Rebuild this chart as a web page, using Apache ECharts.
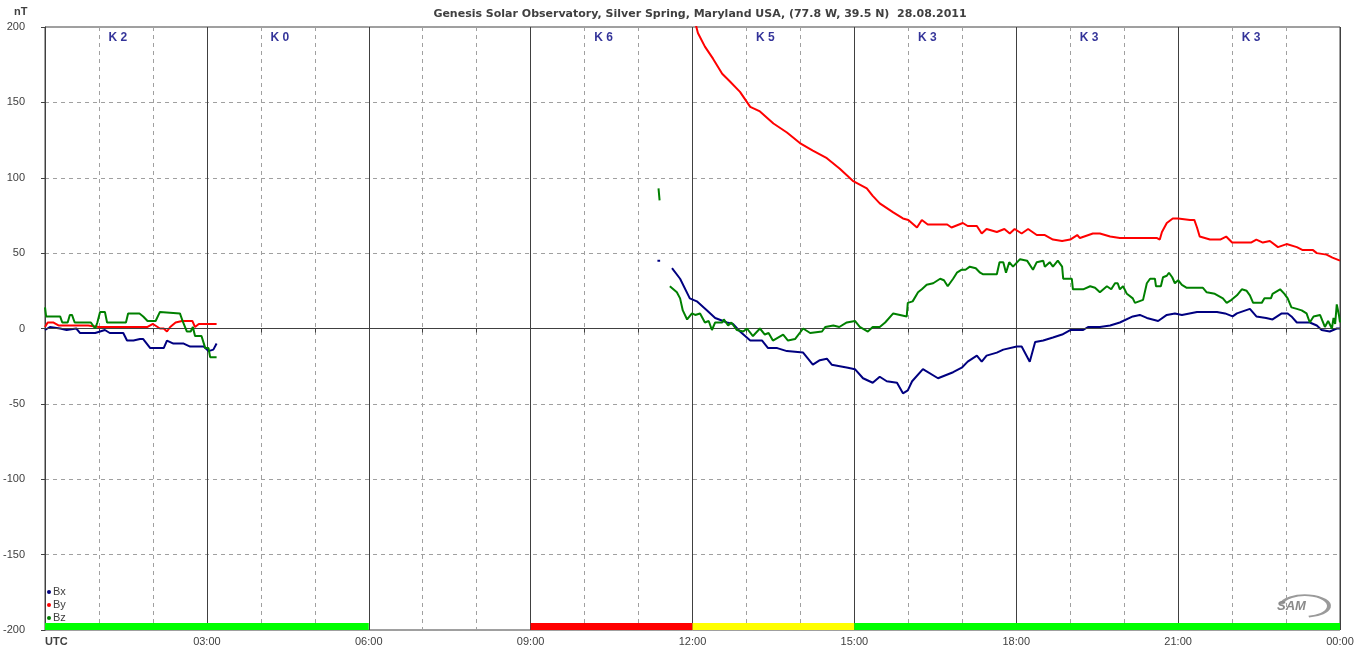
<!DOCTYPE html>
<html>
<head>
<meta charset="utf-8">
<script src="https://cdn.jsdelivr.net/npm/echarts@6/dist/echarts.min.js"></script>
<style>
  html, body { margin: 0; padding: 0; background: #fff; }
  #main { width: 1360px; height: 657px; }
</style>
</head>
<body>
<div id="main"></div>
<script>
// [hour UTC, nT] ; null = no data
var bx = [
  [0, -1], [0.09, 1], [0.28, 0], [0.4, -1], [0.58, 0], [0.65, -3], [0.93, -3], [1.02, -2], [1.11, -1],
  [1.2, -3], [1.45, -3], [1.52, -8], [1.64, -8], [1.76, -7], [1.82, -7], [1.95, -13], [2.2, -13],
  [2.26, -8], [2.38, -10], [2.57, -10], [2.69, -12], [2.94, -12], [3.03, -15], [3.12, -14], [3.18, -10],
  [3.2, null],
  [11.35, 45], [11.4, 45], [11.45, null],
  [11.62, 40], [11.77, 33], [11.95, 20], [12.08, 18], [12.27, 12], [12.42, 7], [12.64, 4], [12.75, 3],
  [12.88, -2], [13.07, -8], [13.29, -8], [13.4, -13], [13.57, -13], [13.75, -15], [14.05, -16],
  [14.23, -24], [14.36, -21], [14.49, -20], [14.58, -24], [14.88, -26], [15.01, -27], [15.16, -33],
  [15.34, -36], [15.47, -32], [15.6, -35], [15.79, -36], [15.9, -43], [15.99, -41], [16.07, -35],
  [16.27, -27], [16.55, -33], [16.83, -29], [16.99, -26], [17.1, -22], [17.27, -18], [17.36, -22],
  [17.45, -18], [17.64, -16], [17.76, -14], [18.01, -12], [18.1, -12], [18.25, -22], [18.35, -9],
  [18.5, -8], [18.68, -6], [18.85, -4], [19.0, -1], [19.24, -1], [19.33, 1], [19.55, 1], [19.74, 2],
  [19.92, 4], [20.16, 8], [20.29, 9], [20.42, 7], [20.63, 5], [20.79, 9], [20.94, 10], [21.07, 9],
  [21.35, 11], [21.72, 11], [21.87, 10], [22.01, 8], [22.09, 10], [22.33, 13], [22.45, 8], [22.63, 7],
  [22.75, 6], [22.92, 10], [23.03, 10], [23.1, 8], [23.2, 4], [23.44, 4], [23.57, 2], [23.66, -1],
  [23.81, -2], [23.94, 0], [24, 0]
];
var by = [
  [0, 1], [0.05, 4], [0.15, 4], [0.25, 2], [0.8, 2], [1.0, 1], [1.9, 1], [2.0, 3], [2.13, 0], [2.2, 0],
  [2.26, -2], [2.32, 1], [2.42, 4], [2.54, 5], [2.73, 5], [2.78, 1], [2.85, 3], [3.18, 3],
  [3.2, null],
  [12.0, 206], [12.05, 203], [12.1, 196], [12.23, 187], [12.38, 179], [12.55, 169], [12.69, 164],
  [12.88, 157], [13.07, 147], [13.25, 144], [13.5, 136], [13.75, 130], [13.99, 123], [14.23, 118],
  [14.49, 113], [14.73, 106], [14.97, 98], [15.23, 93], [15.34, 88], [15.47, 83], [15.72, 77],
  [15.9, 73], [16.0, 72], [16.16, 67], [16.25, 72], [16.36, 69], [16.72, 69], [16.8, 67], [17.01, 70],
  [17.1, 68], [17.27, 68], [17.36, 63], [17.45, 66], [17.64, 64], [17.78, 66], [17.88, 63], [17.97, 66],
  [18.1, 63], [18.22, 66], [18.38, 62], [18.53, 62], [18.68, 59], [18.85, 58], [19.0, 59], [19.13, 62],
  [19.18, 60], [19.42, 63], [19.55, 63], [19.74, 61], [19.92, 60], [20.05, 60], [20.61, 60], [20.66, 59],
  [20.7, 64], [20.79, 70], [20.9, 73], [21.0, 73], [21.22, 72], [21.3, 72], [21.35, 67], [21.4, 61],
  [21.59, 59], [21.78, 59], [21.89, 61], [22.0, 57], [22.2, 57], [22.35, 57], [22.45, 59], [22.57, 57],
  [22.7, 58], [22.85, 54], [23.01, 56], [23.2, 54], [23.31, 52], [23.5, 52], [23.57, 50], [23.75, 49],
  [23.86, 47], [24, 45]
];
var bz = [
  [0, 14], [0.02, 8], [0.28, 8], [0.32, 4], [0.42, 4], [0.46, 9], [0.5, 9], [0.55, 4], [0.85, 4],
  [0.93, 0], [0.97, 4], [1.02, 11], [1.11, 11], [1.15, 4], [1.5, 4], [1.54, 10], [1.75, 10], [1.82, 8],
  [1.9, 5], [2.05, 5], [2.13, 11], [2.5, 10], [2.56, 4], [2.63, -2], [2.7, -2], [2.74, 1], [2.78, -5],
  [2.9, -5], [2.97, -13], [3.03, -13], [3.06, -19], [3.18, -19],
  [3.2, null],
  [11.37, 93], [11.39, 85], [11.45, null],
  [11.58, 28], [11.71, 24], [11.77, 20], [11.82, 12], [11.9, 6], [11.99, 10], [12.05, 9], [12.14, 10],
  [12.23, 4], [12.3, 5], [12.36, -1], [12.42, 4], [12.55, 4], [12.58, 6], [12.66, 2], [12.72, 4],
  [12.82, -1], [12.94, -2], [13.01, 0], [13.12, -5], [13.25, 0], [13.34, -4], [13.41, -3], [13.49, -8],
  [13.68, -4], [13.77, -8], [13.9, -7], [14.05, 0], [14.18, -3], [14.4, -2], [14.46, 1], [14.61, 2],
  [14.72, 1], [14.86, 4], [15.01, 5], [15.1, 1], [15.25, -2], [15.34, 1], [15.47, 1], [15.57, 4],
  [15.72, 10], [15.97, 8], [15.99, 17], [16.08, 18], [16.18, 24], [16.25, 26], [16.34, 29], [16.46, 30],
  [16.59, 33], [16.66, 32], [16.73, 28], [16.83, 33], [16.9, 37], [16.99, 39], [17.06, 39], [17.14, 41],
  [17.25, 40], [17.33, 37], [17.38, 36], [17.64, 36], [17.69, 44], [17.76, 44], [17.81, 37], [17.87, 44],
  [17.94, 41], [18.07, 46], [18.2, 45], [18.31, 39], [18.38, 44], [18.5, 45], [18.53, 41], [18.62, 44],
  [18.68, 41], [18.77, 45], [18.85, 41], [18.87, 33], [19.03, 33], [19.05, 26], [19.24, 26], [19.37, 28],
  [19.46, 27], [19.55, 24], [19.68, 28], [19.76, 26], [19.83, 30], [19.88, 30], [19.92, 26], [19.98, 28],
  [20.05, 23], [20.16, 20], [20.2, 17], [20.35, 19], [20.42, 30], [20.48, 33], [20.57, 33], [20.59, 28],
  [20.68, 28], [20.72, 34], [20.79, 35], [20.83, 37], [20.89, 34], [20.94, 30], [21.0, 32], [21.07, 29],
  [21.16, 27], [21.46, 27], [21.53, 24], [21.68, 23], [21.83, 20], [21.9, 17], [21.99, 19], [22.09, 22],
  [22.18, 26], [22.27, 25], [22.33, 22], [22.39, 17], [22.55, 17], [22.6, 20], [22.72, 20], [22.75, 23],
  [22.89, 26], [22.97, 23], [23.03, 20], [23.1, 14], [23.2, 13], [23.29, 12], [23.38, 10], [23.44, 4],
  [23.51, 8], [23.63, 9], [23.72, 1], [23.78, 5], [23.85, 0], [23.88, 7], [23.91, 3], [23.94, 16],
  [23.98, 9], [24, 4]
];

// K index per 3h block (null = none shown)
var kIndex = [2, 0, null, 6, 5, 3, 3, 3];
// status bar at the bottom: [from h, to h, colour]
var statusBar = [[0, 6, '#00ff00'], [9, 12, '#ff0000'], [12, 15, '#ffff00'], [15, 24, '#00ff00']];

var yTicks = [-200, 200, 50];

var kData = [];
kIndex.forEach(function (k, i) {
  if (k !== null) kData.push([i * 3 + 1.35, 193, 'K ' + k]);
});

var myChart = echarts.init(document.getElementById('main'));
var fontFam = '"Liberation Sans", Arial, sans-serif';
var boldFam = '"DejaVu Sans", sans-serif';
var labelColor = '#404040';

function hourLabel(v) {
  if (v === 0) return '{b|UTC}';
  if (v % 3 !== 0) return '';
  var h = v % 24;
  return (h < 10 ? '0' : '') + h + ':00';
}

var option = {
  animation: false,
  textStyle: { fontFamily: fontFam },
  title: {
    text: 'Genesis Solar Observatory, Silver Spring, Maryland USA, (77.8 W, 39.5 N)  28.08.2011',
    left: 695, top: 4, textAlign: 'center',
    textStyle: { fontSize: 11, fontWeight: 'bold', color: labelColor, fontFamily: boldFam }
  },
  legend: {
    orient: 'vertical', left: 47, top: 586, itemWidth: 4, itemHeight: 4, itemGap: 1,
    icon: 'circle', padding: 0,
    textStyle: { fontSize: 11, color: labelColor, padding: [0, 0, 0, -3], lineHeight: 12 },
    data: ['Bx', 'By', 'Bz']
  },
  grid: {
    left: 45, right: 20, top: 27, bottom: 27,
    show: true, borderColor: '#404040', borderWidth: 1
  },
  xAxis: [
    {
      type: 'value', min: 0, max: 24, interval: 1,
      axisLine: { show: true, lineStyle: { color: '#404040' } },
      axisTick: { show: true, length: 4, lineStyle: { color: '#404040' } },
      axisLabel: {
        formatter: hourLabel, color: labelColor, fontSize: 11, margin: 6,
        alignMinLabel: 'left', showMinLabel: true, showMaxLabel: true,
        rich: { b: { fontWeight: 'bold', fontSize: 11, color: labelColor, fontFamily: fontFam } }
      },
      splitLine: { show: true, lineStyle: { color: '#a0a0a0', type: [4, 4] } }
    },
    {
      type: 'value', min: 0, max: 24, interval: 3, position: 'bottom',
      axisLine: { show: false }, axisTick: { show: false }, axisLabel: { show: false },
      splitLine: { show: true, lineStyle: { color: '#404040', width: 1 } }
    }
  ],
  yAxis: {
    type: 'value', min: yTicks[0], max: yTicks[1], interval: yTicks[2],
    axisLine: { show: true, lineStyle: { color: '#404040' } },
    axisTick: { show: true, length: 4, lineStyle: { color: '#404040' } },
    axisLabel: { color: labelColor, fontSize: 11, margin: 20 },
    splitLine: { show: true, lineStyle: { color: '#a0a0a0', type: [4, 4] } }
  },
  graphic: [
    { type: 'text', left: 14, top: 6, style: { text: 'nT', font: 'bold 11px ' + fontFam, fill: labelColor } },
    { type: 'arc', x: 1305, y: 606, scaleY: 0.45,
      shape: { cx: 0, cy: 0, r: 24, startAngle: -Math.PI * 0.95, endAngle: Math.PI * 0.45 },
      style: { stroke: '#9a9a9a', lineWidth: 4, fill: null } },
    { type: 'text', left: 1277, top: 600, style: { text: 'SAM', font: 'italic bold 13px ' + fontFam, fill: '#8a8a8a' } }
  ],
  series: [
    {
      name: 'Bx', type: 'line', data: bx, showSymbol: false, connectNulls: false,
      color: '#000080', lineStyle: { width: 2 }, z: 4,
      markLine: {
        silent: true, symbol: 'none', label: { show: false },
        lineStyle: { color: '#404040', type: 'solid', width: 1 },
        data: [{ yAxis: 0 }]
      }
    },
    {
      name: 'By', type: 'line', data: by, showSymbol: false, connectNulls: false,
      color: '#ff0000', lineStyle: { width: 2 }, z: 3
    },
    {
      name: 'Bz', type: 'line', data: bz, showSymbol: false, connectNulls: false,
      color: '#008000', lineStyle: { width: 2 }, z: 5
    },
    {
      name: 'status', type: 'line', data: [], silent: true,
      markArea: {
        silent: true,
        data: statusBar.map(function (s) {
          return [{ xAxis: s[0], yAxis: -200, itemStyle: { color: s[2], opacity: 1 } }, { xAxis: s[1], yAxis: -195.4 }];
        })
      }
    },
    {
      name: 'K', type: 'scatter', data: kData, symbolSize: 0, silent: true,
      label: {
        show: true, position: 'inside', formatter: function (p) { return p.data[2]; },
        color: '#000080', fontWeight: 'bold', fontSize: 12, fontFamily: fontFam
      }
    }
  ]
};

myChart.setOption(option);
</script>
</body>
</html>
